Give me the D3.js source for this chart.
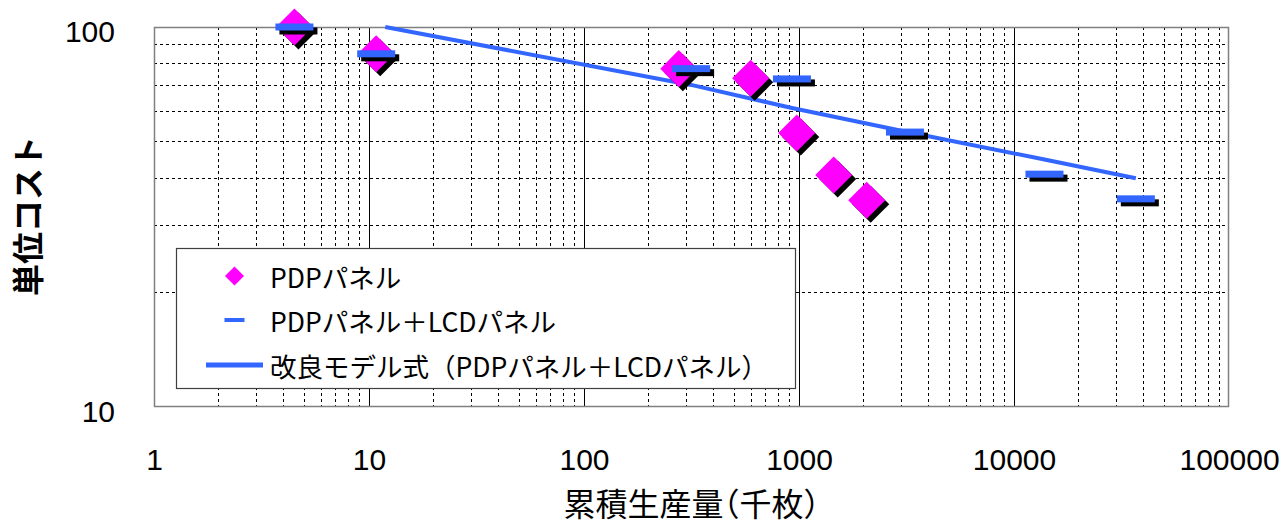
<!DOCTYPE html>
<html>
<head>
<meta charset="utf-8">
<script src="https://cdn.jsdelivr.net/npm/d3@7"></script>
<style>
  html, body { margin: 0; padding: 0; background: #fff; }
  svg { display: block; }
</style>
</head>
<body>
<svg id="chart" width="1284" height="526"></svg>
<script>
// ---- data ----
const pdpX = [4.5, 10.8, 276, 596, 976, 1450, 2065];
const pdpY = [100, 85, 77.7, 73.3, 52.6, 40.8, 35];

const comboX = [4.5, 10.8, 315, 927, 3111, 13860, 36870];
const comboY = [100, 85, 77.7, 73.0, 52.9, 41.0, 35.3];

const modelX = [11.9, 315, 927, 3111, 13860, 36870];
const modelY = [100, 70.4, 61.2, 53.1, 44.8, 40];

const xTicks = [1, 10, 100, 1000, 10000, 100000];
const yTicks = [10, 100];
const legendLabels = ["PDPパネル", "PDPパネル＋LCDパネル", "改良モデル式（PDPパネル＋LCDパネル）"];
const xTitle = "累積生産量（千枚）";
const yTitle = "単位コスト";

// ---- layout ----
const L = 154, R = 1229, T = 27, B = 407;
const svg = d3.select("#chart");
const x = d3.scaleLog().domain([1, 100000]).range([L, R]);
const y = d3.scaleLog().domain([10, 100]).range([B, T]);

const blue = "#3366ff", pink = "#ff00ff";
const latin = "'Liberation Sans', Arial, sans-serif";
const cjk = "'Noto Sans CJK JP', sans-serif";

// plot background
svg.append("rect").attr("x", L).attr("y", T).attr("width", R - L).attr("height", B - T).attr("fill", "#fff");

// minor grid verticals (dashed) and majors (solid)
const grid = svg.append("g");
for (let d = 1; d < 100000; d *= 10) {
  for (let k = 2; k <= 9; k++) {
    const v = d * k;
    grid.append("line").attr("x1", x(v)).attr("x2", x(v)).attr("y1", T).attr("y2", B)
      .attr("stroke", "#000").attr("stroke-width", 1).attr("stroke-dasharray", "3,3");
  }
}
for (let k = 2; k <= 9; k++) {
  const v = 10 * k;
  grid.append("line").attr("x1", L).attr("x2", R).attr("y1", y(v)).attr("y2", y(v))
    .attr("stroke", "#000").attr("stroke-width", 1).attr("stroke-dasharray", "3,3");
}
xTicks.slice(1, -1).forEach(v => {
  grid.append("line").attr("x1", x(v)).attr("x2", x(v)).attr("y1", T).attr("y2", B)
    .attr("stroke", "#000").attr("stroke-width", 1);
});
grid.selectAll("line").attr("shape-rendering", "crispEdges");

// border
svg.append("rect").attr("x", L + 0.5).attr("y", T + 0.5).attr("width", R - L - 1).attr("height", B - T - 1)
  .attr("fill", "none").attr("stroke", "#808080").attr("stroke-width", 1.5);

// axis labels via d3 axes (lines hidden)
const xAxis = svg.append("g").attr("transform", `translate(0,${B})`)
  .call(d3.axisBottom(x).tickValues(xTicks).tickFormat(d3.format("d")).tickSize(0).tickPadding(0));
xAxis.select(".domain").remove();
xAxis.selectAll("text").attr("y", 63).attr("dy", null)
  .style("font-family", latin).style("font-size", "30px").attr("fill", "#000");

const yAxis = svg.append("g").attr("transform", `translate(115,0)`)
  .call(d3.axisLeft(y).tickValues(yTicks).tickFormat(d3.format("d")).tickSize(0).tickPadding(0));
yAxis.select(".domain").remove();
yAxis.selectAll("text").attr("x", 0).attr("dy", null).attr("y", 14)
  .style("font-family", latin).style("font-size", "30px").attr("fill", "#000");

// model line
const line = d3.line().x(d => x(d[0])).y(d => y(d[1]));
svg.append("path").datum(modelX.map((v, i) => [v, modelY[i]]))
  .attr("d", line).attr("fill", "none").attr("stroke", blue).attr("stroke-width", 4)
  .attr("stroke-linejoin", "round");

// PDP diamonds with shadow
const diamond = d3.symbol(d3.symbolSquare, 686)();
const pdp = pdpX.map((v, i) => [v, pdpY[i]]);
const combo = comboX.map((v, i) => [v, comboY[i]]);

svg.append("g").selectAll("path").data(pdp).join("path")
  .attr("d", diamond).attr("fill", "#000")
  .attr("transform", d => `translate(${x(d[0]) + 4},${y(d[1]) + 4}) rotate(45)`);
svg.append("g").selectAll("path").data(pdp).join("path")
  .attr("d", diamond).attr("fill", pink)
  .attr("transform", d => `translate(${x(d[0])},${y(d[1])}) rotate(45)`);

// PDP+LCD dashes with shadow
svg.append("g").selectAll("rect").data(combo).join("rect")
  .attr("x", d => x(d[0]) - 19 + 4).attr("y", d => y(d[1]) - 3.5 + 4)
  .attr("width", 38).attr("height", 7).attr("fill", "#000");
svg.append("g").selectAll("rect").data(combo).join("rect")
  .attr("x", d => x(d[0]) - 19).attr("y", d => y(d[1]) - 3.5)
  .attr("width", 38).attr("height", 7).attr("fill", blue);

// legend
const lg = svg.append("g");
lg.append("rect").attr("x", 176.5).attr("y", 248.5).attr("width", 619).attr("height", 140)
  .attr("fill", "#fff").attr("stroke", "#404040").attr("stroke-width", 1.2);
const rowY = [276, 320, 365];
lg.append("path").attr("d", d3.symbol(d3.symbolSquare, 180)())
  .attr("transform", `translate(234.5,${rowY[0]}) rotate(45)`).attr("fill", pink);
lg.append("rect").attr("x", 224.5).attr("y", rowY[1] - 2).attr("width", 20).attr("height", 4).attr("fill", blue);
lg.append("line").attr("x1", 206).attr("x2", 263).attr("y1", rowY[2]).attr("y2", rowY[2])
  .attr("stroke", blue).attr("stroke-width", 5);
lg.selectAll("text").data(legendLabels).join("text")
  .attr("x", 270).attr("y", (d, i) => rowY[i]).attr("dominant-baseline", "central")
  .style("font-family", cjk).style("font-size", "26.5px").attr("fill", "#000")
  .text(d => d);

// axis titles
svg.append("text").attr("x", (L + R) / 2).attr("y", 516).attr("text-anchor", "middle")
  .style("font-family", cjk).style("font-size", "32px").attr("fill", "#000")
  .style("font-feature-settings", "'halt'").text(xTitle);
svg.append("text").attr("transform", "translate(40,216) rotate(-90)").attr("text-anchor", "middle")
  .style("font-family", cjk).style("font-size", "32px").style("font-weight", "bold")
  .attr("fill", "#000").text(yTitle);
</script>
</body>
</html>
